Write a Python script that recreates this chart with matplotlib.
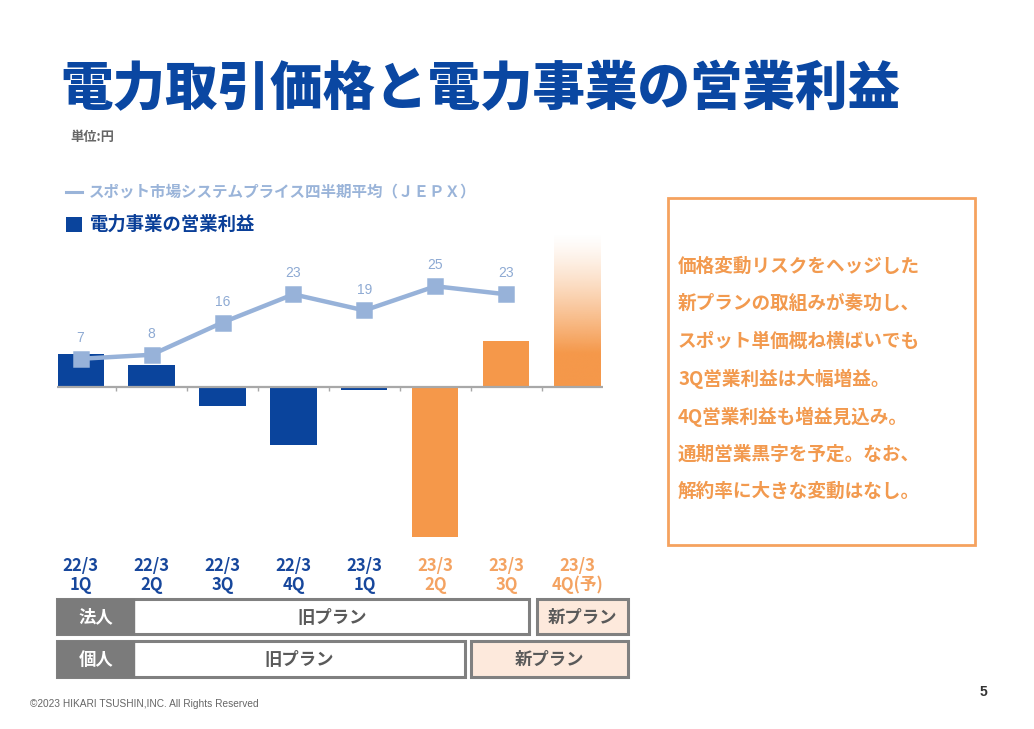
import numpy as np
import matplotlib
matplotlib.use("Agg")
import matplotlib.pyplot as plt
from matplotlib.patches import Rectangle
from matplotlib.lines import Line2D
from matplotlib.transforms import blended_transform_factory

plt.rcParams['font.family'] = ['Noto Sans CJK JP', 'DejaVu Sans']

# ---------------- data ----------------
period_top = ["22/3", "22/3", "22/3", "22/3", "23/3", "23/3", "23/3", "23/3"]
period_bot = ["1Q", "2Q", "3Q", "4Q", "1Q", "2Q", "3Q", "4Q(予)"]
# operating profit of electricity business (no scale given in source; relative units)
profit_rel = [33, 22, -19, -58, -3, -150, 46, 154]
is_new_plan = [False, False, False, False, False, True, True, True]
forecast = [False, False, False, False, False, False, False, True]
# JEPX system price quarterly average (yen)
jepx = [7, 8, 16, 23, 19, 25, 23]

title = "電力取引価格と電力事業の営業利益"
unit_label = "単位:円"
legend_line = "スポット市場システムプライス四半期平均（ＪＥＰＸ）"
legend_bar = "電力事業の営業利益"
comment_lines = [
    "価格変動リスクをヘッジした",
    "新プランの取組みが奏功し、",
    "スポット単価概ね横ばいでも",
    "3Q営業利益は大幅増益。",
    "4Q営業利益も増益見込み。",
    "通期営業黒字を予定。なお、",
    "解約率に大きな変動はなし。",
]
row_labels = ["法人", "個人"]
old_plan = "旧プラン"
new_plan = "新プラン"
copyright_txt = "©2023 HIKARI TSUSHIN,INC. All Rights Reserved"
page_no = "5"

# ---------------- style ----------------
BLUE = "#0a449c"
ORANGE = "#f5984a"
LINE = "#97b2d9"
LABEL_BLUE = "#8eaad3"
TXT_ORANGE = "#f29a4f"
GRAY = "#7b7b7b"
PEACH = "#fde9dc"

W, H = 1034, 729
fig = plt.figure(figsize=(W / 100, H / 100), dpi=100)
fig.patch.set_facecolor("white")


def fx(x):
    return x / W


def fy(y):
    return 1 - y / H


# main axes (pixel-scaled y units)
ax_top, ax_bot = 230, 545
ax = fig.add_axes([fx(57.3), fy(ax_bot), 546 / W, (ax_bot - ax_top) / H])
for s in ax.spines.values():
    s.set_visible(False)
ax.set_xticks([])
ax.set_yticks([])
ax.patch.set_alpha(0)

x = np.arange(len(profit_rel))
bw = 0.65
for xi, v, newp, fc in zip(x, profit_rel, is_new_plan, forecast):
    col = ORANGE if newp else BLUE
    if fc:
        # gradient bar: solid at bottom, fading to white at top
        n = 200
        frac = np.linspace(1, 0, n)  # top -> bottom
        solid = 0.22
        alpha = np.clip((1 - frac) / (1 - solid), 0, 1) ** 1.3
        rgba = np.zeros((n, 1, 4))
        rgba[..., :3] = matplotlib.colors.to_rgb(col)
        rgba[:, 0, 3] = alpha
        ax.imshow(rgba, extent=[xi - bw / 2, xi + bw / 2, 0, v],
                  aspect="auto", interpolation="bilinear", zorder=2)
    else:
        ax.bar(xi, v, width=bw, color=col, zorder=2)

ax.axhline(0, color="#a8a8a8", lw=1.6, zorder=3)
ax.vlines(x[:-1] + 0.5, -4, 0, color="#a8a8a8", lw=1.0, zorder=3)
ax.set_xlim(-0.328, 7.366)
ax.set_ylim(-(ax_bot - 387), 387 - ax_top)

# line on twin axes
ppy = 4.03
ax2 = ax.twinx()
ax2.set_ylim(-(ax_bot - 387) / ppy, (387 - ax_top) / ppy)
for s in ax2.spines.values():
    s.set_visible(False)
ax2.set_yticks([])
xl = np.arange(len(jepx))
ax2.plot(xl, jepx, color=LINE, lw=3.2, zorder=4, solid_capstyle="round")
ax2.plot(xl, jepx, ls="none", marker="s", ms=10.5, mfc=LINE, mec=LINE,
         mew=1.8, zorder=5)
for xi, v in zip(xl, jepx):
    ax2.annotate(str(v), (xi, v), xytext=(0, 15), textcoords="offset points",
                 ha="center", va="center", color=LABEL_BLUE, fontsize=10,
                 family=["Liberation Sans", "DejaVu Sans"])

# x category labels
tr = blended_transform_factory(ax.transData, fig.transFigure)
for xi, t1, t2, newp in zip(x, period_top, period_bot, is_new_plan):
    c = "#f4a362" if newp else "#17479c"
    fig.text(xi, fy(566), t1, transform=tr, ha="center", va="center",
             fontsize=12, fontweight="bold", color=c)
    fig.text(xi, fy(585), t2, transform=tr, ha="center", va="center",
             fontsize=12, fontweight="bold", color=c)

# title etc.
fig.text(fx(60), fy(90), title, ha="left", va="center", fontsize=37.8,
         fontweight="heavy", color="#0a47a2")
fig.text(fx(70), fy(137), unit_label, ha="left", va="center", fontsize=9.5,
         fontweight="bold", color="#666666")
fig.add_artist(Line2D([fx(66), fx(81.5)], [fy(191.5), fy(191.5)],
                      transform=fig.transFigure, color="#9ab4d9", lw=2.2))
fig.text(fx(89), fy(191), legend_line, ha="left", va="center", fontsize=11.2,
         fontweight="bold", color="#9ab4d9")
fig.add_artist(Rectangle((fx(66), fy(231.7)), 16 / W, 15 / H,
                         transform=fig.transFigure, color=BLUE, lw=0))
fig.text(fx(90), fy(224), legend_bar, ha="left", va="center", fontsize=13.2,
         fontweight="bold", color="#0a3f98")

# comment box
fig.add_artist(Rectangle((fx(668), fy(545)), (975 - 668) / W, (545 - 198) / H,
                         transform=fig.transFigure, fill=False,
                         ec="#f5a25f", lw=2))
for i, line in enumerate(comment_lines):
    fig.text(fx(678), fy(266 + 37.6 * i), line, ha="left", va="center",
             fontsize=13.4, fontweight="bold", color=TXT_ORANGE)


# plan rows
def rect(x0, y0, x1, y1, fc, ec, lw):
    fig.add_artist(Rectangle((fx(x0), fy(y1)), (x1 - x0) / W, (y1 - y0) / H,
                             transform=fig.transFigure, fc=fc, ec=ec, lw=lw))


rows = [
    (599.3, 634.0, 529.3, 536.7),
    (640.7, 676.7, 465.0, 471.0),
]
for (y0, y1, old_end, new_start), lab in zip(rows, row_labels):
    rect(57.3, y0, old_end, y1, "white", "#808080", 2.2)
    rect(57.3, y0, 134.3, y1, GRAY, GRAY, 1.0)
    rect(new_start, y0, 628.3, y1, PEACH, "#808080", 2.2)
    yc = (y0 + y1) / 2 + 1
    fig.text(fx(95.8), fy(yc), lab, ha="center", va="center", fontsize=12.5,
             fontweight="bold", color="white")
    fig.text(fx((134.3 + old_end) / 2), fy(yc), old_plan, ha="center",
             va="center", fontsize=12.5, fontweight="bold", color="#5a5a5a")
    fig.text(fx((new_start + 628.3) / 2), fy(yc), new_plan, ha="center",
             va="center", fontsize=12.5, fontweight="bold", color="#5a5a5a")

fig.text(fx(30), fy(704), copyright_txt, ha="left", va="center", fontsize=7.3,
         color="#666666", family=["Liberation Sans", "DejaVu Sans"])
fig.text(fx(983), fy(692), page_no, ha="center", va="center", fontsize=10,
         fontweight="bold", color="#333333",
         family=["Liberation Sans", "DejaVu Sans"])

fig.savefig("out.png", dpi=100, facecolor="white")
